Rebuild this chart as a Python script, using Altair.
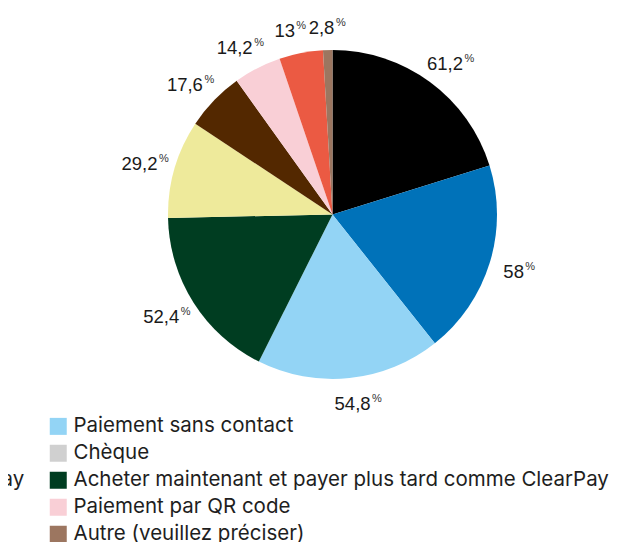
import altair as alt
import pandas as pd

# Pie slices (clockwise from 12 o'clock)
categories = [
    "Carte de débit",
    "Carte de crédit",
    "Paiement sans contact",
    "\u00a0Acheter maintenant et payer plus tard comme ClearPay",
    "Paiement mobile comme Apple Pay",
    "Espèces",
    "Paiement par QR code",
    "Virement bancaire",
    "Autre (veuillez préciser)",
]
values = [61.2, 58, 54.8, 52.4, 29.2, 17.6, 14.2, 13, 2.8]

# Legend entries: left column (cut off by the frame), then right column
legend_order = [
    "Carte de débit",
    "Carte de crédit",
    "Paiement mobile comme Apple Pay",
    "Espèces",
    "Virement bancaire",
    "Paiement sans contact",
    "Chèque",
    "\u00a0Acheter maintenant et payer plus tard comme ClearPay",
    "Paiement par QR code",
    "Autre (veuillez préciser)",
]
legend_colors = [
    "#000000",
    "#0072b9",
    "#eeea9b",
    "#532800",
    "#eb5a43",
    "#93d4f5",
    "#d0d0d0",
    "#003d21",
    "#f9cfd6",
    "#9c7660",
]

df = pd.DataFrame({"cat": categories, "value": values})

CX, CY = 324.5, 206.5
R = 164.5
RL = 189

pie = alt.Chart(df).mark_arc(outerRadius=R, strokeWidth=0).encode(
    theta=alt.Theta("value:Q", stack=True),
    order=alt.Order("value:Q", sort="descending"),
    x=alt.value(CX),
    y=alt.value(CY),
    color=alt.Color(
        "cat:N",
        scale=alt.Scale(domain=legend_order, range=legend_colors),
        legend=alt.Legend(
            title=None,
            orient="none",
            legendX=-351,
            legendY=408,
            columns=2,
            symbolType="square",
            symbolSize=289,
            symbolStrokeWidth=0,
            labelFont="Inter",
            labelFontSize=20.5,
            labelColor="#1e1e1e",
            labelOffset=5,
            rowPadding=6,
            columnPadding=23,
            padding=0,
            labelLimit=0,
        ),
    ),
)

lbl = (
    alt.Chart(df)
    .transform_window(
        cum="sum(value)",
        sort=[alt.SortField("value", order="descending")],
        frame=[None, 0],
    )
    .transform_joinaggregate(total="sum(value)")
    .transform_calculate(
        mid="datum.cum - datum.value / 2",
        lab="replace(toString(datum.value), '.', ',')",
        n="length(replace(toString(datum.value), '.', ','))",
    )
    .transform_calculate(
        s="sin(2 * PI * datum.mid / datum.total)",
    )
    .transform_calculate(
        side="datum.s < -0.08 ? -1 : (datum.s > 0.08 ? 1 : 0)",
    )
    .encode(
        theta=alt.Theta("mid:Q", stack=False),
        x=alt.value(CX),
        y=alt.value(CY),
    )
)

SHIFT = 6
layers = [pie]
for side in (-1, 0, 1):
    sub = lbl.transform_filter(f"datum.side == {side}")
    layers.append(
        sub.mark_text(
            radius=RL, font="Liberation Sans", fontSize=18.5, color="#1a1a1a",
            align="center", baseline="middle", dx=-5.5 + SHIFT * side, dy=2,
        ).encode(text="lab:N")
    )
    for cond, dx in (("datum.n >= 4", 14), ("datum.n == 3", 9), ("datum.n <= 2", 6)):
        layers.append(
            sub.transform_filter(cond).mark_text(
                radius=RL, font="Liberation Sans", fontSize=11, color="#333333",
                align="left", baseline="middle", dx=dx + SHIFT * side, dy=-3,
            ).encode(text=alt.value("%"))
        )

chart = alt.layer(*layers).properties(
    width=604,
    height=534,
    autosize=alt.AutoSizeParams(type="none"),
    padding=0,
).configure_view(stroke=None)

chart.save("out.html", embed_options={"renderer": "svg", "actions": False})
